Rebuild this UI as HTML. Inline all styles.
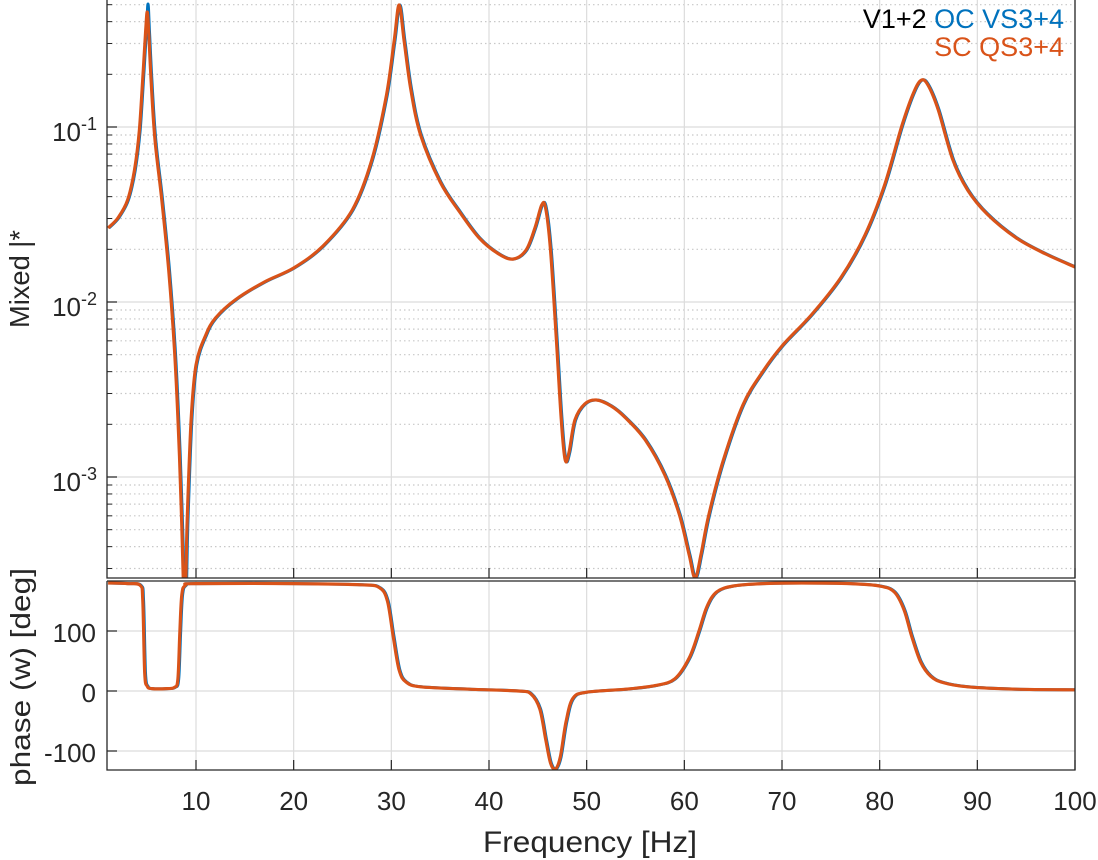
<!DOCTYPE html>
<html><head><meta charset="utf-8"><style>
html,body{margin:0;padding:0;background:#fff;}
svg{display:block;font-family:"Liberation Sans",Arial,sans-serif;}
</style></head><body>
<svg id="s" width="1098" height="860" viewBox="0 0 1098 860">
<g id="grid"></g>
<g id="curves"></g>
<g id="axes" fill="none" stroke="#262626" stroke-width="1.3">
<path d="M107,0 V578 H1075 V0"/>
<path d="M107,581 V770 H1075 V581 H107"/>
</g>
<g id="ticks"></g>
<g font-size="26" fill="#262626">
<text x="97" y="141" text-anchor="end">10<tspan font-size="18" dy="-11">-1</tspan></text>
<text x="97" y="316" text-anchor="end">10<tspan font-size="18" dy="-11">-2</tspan></text>
<text x="97" y="491" text-anchor="end">10<tspan font-size="18" dy="-11">-3</tspan></text>
<text x="96" y="642" text-anchor="end">100</text>
<text x="96" y="702" text-anchor="end">0</text>
<text x="96" y="762" text-anchor="end">-100</text>
<g id="xl" text-anchor="middle"></g>
<text x="590" y="852" text-anchor="middle" font-size="30" textLength="214" lengthAdjust="spacingAndGlyphs">Frequency [Hz]</text>
<text transform="translate(29,279) rotate(-90)" text-anchor="middle" font-size="28" textLength="98" lengthAdjust="spacingAndGlyphs">Mixed |*</text>
<text transform="translate(30,677) rotate(-90)" text-anchor="middle" font-size="28" textLength="218" lengthAdjust="spacingAndGlyphs">phase (w) [deg]</text>
</g>
<g font-size="27" text-anchor="end">
<text x="1064" y="28"><tspan fill="#000">V1+2 </tspan><tspan fill="#0072BD">OC VS3+4</tspan></text>
<text x="1064" y="56" fill="#D95319">SC QS3+4</text>
</g>
</svg>
<script>
const NS="http://www.w3.org/2000/svg";
const X=f=>196+(f-10)*9.7667;
const Ym=v=>127-(Math.log10(v)+1)*175;
const Yp=d=>691-d*0.6;
function el(p,t,a){const e=document.createElementNS(NS,t);for(const k in a)e.setAttribute(k,a[k]);p.appendChild(e);return e;}
const G=document.getElementById('grid'),T=document.getElementById('ticks'),XL=document.getElementById('xl');
for(let d=-4;d<=0;d++)for(let m=1;m<10;m++){const y=Ym(m*Math.pow(10,d));if(y<0||y>578)continue;
 if(m==1){el(G,'line',{x1:107,x2:1075,y1:y,y2:y,stroke:'#dcdcdc','stroke-width':1.2});el(T,'line',{x1:107,x2:117,y1:y,y2:y,stroke:'#262626','stroke-width':1.2});}
 else{el(G,'line',{x1:107,x2:1075,y1:y,y2:y,stroke:'#c8c8c8','stroke-width':1.2,'stroke-dasharray':'1.5,3'});el(T,'line',{x1:107,x2:112,y1:y,y2:y,stroke:'#262626','stroke-width':1});}}
for(let f=10;f<=100;f+=10){const x=X(f);
 el(G,'line',{x1:x,x2:x,y1:0,y2:578,stroke:'#dcdcdc','stroke-width':1.2});
 el(G,'line',{x1:x,x2:x,y1:581,y2:770,stroke:'#dcdcdc','stroke-width':1.2});
 el(T,'line',{x1:x,x2:x,y1:578,y2:568,stroke:'#262626','stroke-width':1.2});
 el(T,'line',{x1:x,x2:x,y1:770,y2:760,stroke:'#262626','stroke-width':1.2});
 const t=el(XL,'text',{x:x,y:810});t.textContent=f;}
for(const d of [-100,0,100]){const y=Yp(d);el(G,'line',{x1:107,x2:1075,y1:y,y2:y,stroke:'#dcdcdc','stroke-width':1.2});el(T,'line',{x1:107,x2:117,y1:y,y2:y,stroke:'#262626','stroke-width':1.2});}
const mag=[[1,228],[2,218],[3,200],[3.7,170],[4.2,130],[4.6,70],[4.85,30],[5,12],[5.15,30],[5.4,80],[5.8,140],[6.5,200],[7.2,270],[7.8,350],[8.2,430],[8.5,510],[8.7,580],[8.9,600],[9.1,520],[9.5,420],[10,365],[11,335],[12,318],[14,300],[17,282],[20,268],[23,246],[26,210],[28,160],[29.5,95],[30.3,40],[30.8,5],[31.3,40],[32,90],[33,135],[35,182],[37,212],[39,238],[41,254],[42.5,259],[43.8,250],[44.7,228],[45.4,205],[45.8,208],[46.3,250],[46.9,340],[47.4,420],[47.8,460],[48.2,452],[48.8,420],[49.8,404],[51,400],[52.5,406],[54,418],[56,440],[58,475],[59.5,515],[60.5,555],[61.1,578],[61.7,555],[62.5,515],[64,460],[66,405],[68,372],[70,346],[73,315],[76,278],[78.5,235],[80.5,185],[82.3,125],[83.5,92],[84.3,80],[85,86],[86,110],[87.5,160],[89,190],[91,214],[94,238],[97,254],[100,267]];
const ph=[[1,180],[3,179],[4.3,176],[4.55,150],[4.75,30],[5,8],[5.5,4],[7,4],[7.8,6],[8.15,20],[8.35,100],[8.55,160],[8.9,176],[10,179],[20,179],[27,177],[28.8,172],[29.6,150],[30.2,90],[30.8,35],[31.5,15],[33,7],[38,3],[43,0],[44.3,-5],[45.2,-30],[45.8,-80],[46.3,-120],[46.8,-130],[47.3,-110],[47.9,-50],[48.6,-12],[50,-2],[54,3],[57,9],[59,20],[60.5,55],[61.5,100],[62.3,140],[63.3,165],[65,175],[68,179],[72,180],[77,179],[80,175],[81.5,165],[82.5,135],[83.3,90],[84.2,48],[85.2,25],[86.5,14],[89,7],[94,3],[100,2]];
function path(pts,fy,dx){const P=pts.map(p=>[X(p[0])+dx,fy(p[1])]);let d='M'+P[0][0].toFixed(1)+','+P[0][1].toFixed(1);
 for(let i=0;i<P.length-1;i++){const p0=P[Math.max(0,i-1)],p1=P[i],p2=P[i+1],p3=P[Math.min(P.length-1,i+2)];
  const c1=[p1[0]+(p2[0]-p0[0])/6,p1[1]+(p2[1]-p0[1])/6],c2=[p2[0]-(p3[0]-p1[0])/6,p2[1]-(p3[1]-p1[1])/6];
  d+=' C'+c1.map(v=>v.toFixed(1))+' '+c2.map(v=>v.toFixed(1))+' '+p2.map(v=>v.toFixed(1));}
 return d;}
const C=document.getElementById('curves');
const cp1=el(C,'clipPath',{id:'c1'});el(cp1,'rect',{x:107,y:0,width:968,height:578});
const cp2=el(C,'clipPath',{id:'c2'});el(cp2,'rect',{x:107,y:581,width:968,height:189});
const g1=el(C,'g',{'clip-path':'url(#c1)'}),g2=el(C,'g',{'clip-path':'url(#c2)'});
const id=y=>y;
el(g1,'path',{d:path(mag.map(p=>p[0]==5?[5,4]:p),id,0.8),fill:'none',stroke:'#0072BD','stroke-width':3});
el(g1,'path',{d:path(mag,id,0),fill:'none',stroke:'#D95319','stroke-width':3.2});
el(g2,'path',{d:path(ph,Yp,0.8),fill:'none',stroke:'#0072BD','stroke-width':3});
el(g2,'path',{d:path(ph,Yp,0),fill:'none',stroke:'#D95319','stroke-width':3.2});
</script>
</body></html>
